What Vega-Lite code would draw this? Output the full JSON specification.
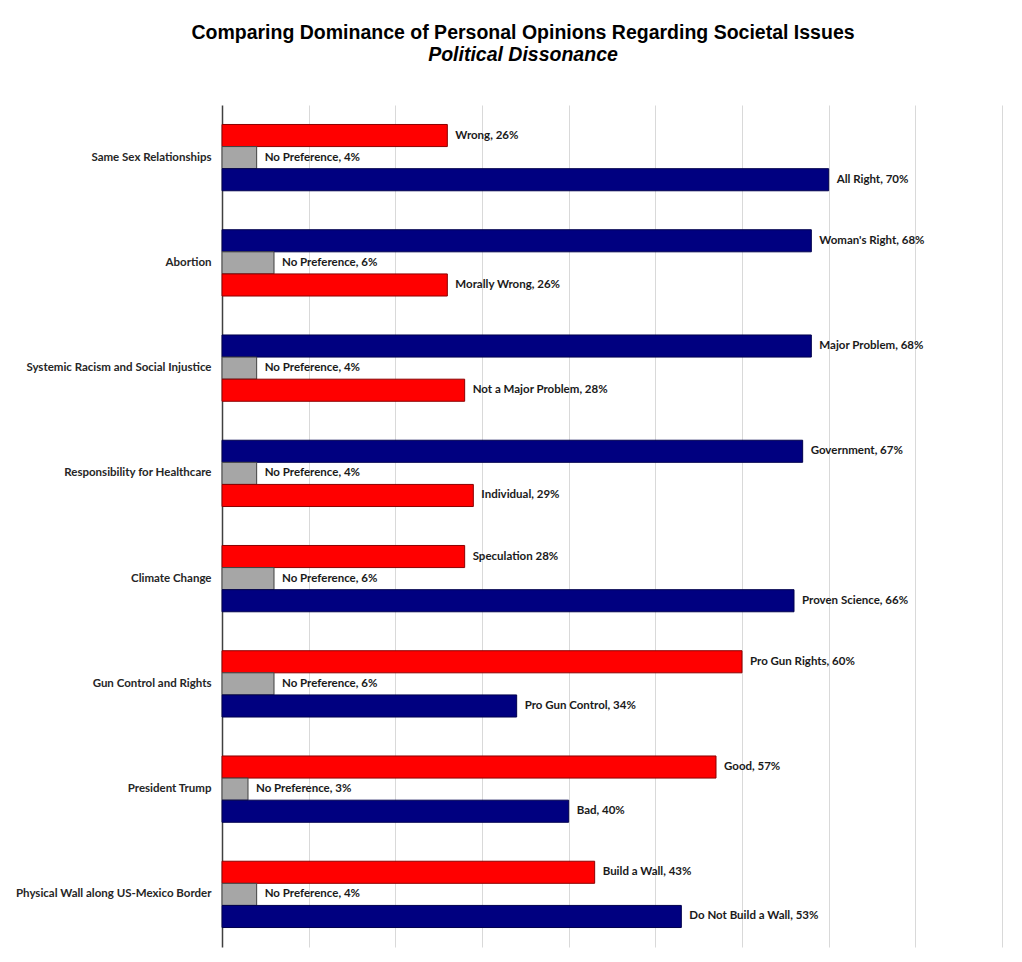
{
  "$schema": "https://vega.github.io/schema/vega-lite/v6.json",
  "width": 780,
  "height": 842,
  "autosize": {"type": "none"},
  "padding": {"left": 222, "top": 105, "right": 20, "bottom": 15},
  "background": "white",
  "title": {
    "text": "Comparing Dominance of Personal Opinions Regarding Societal Issues",
    "subtitle": "Political Dissonance",
    "anchor": "middle",
    "frame": "group",
    "dx": -89,
    "offset": 40,
    "font": "Liberation Sans",
    "fontSize": 19.5,
    "fontWeight": "bold",
    "color": "#000000",
    "subtitleFont": "Liberation Sans",
    "subtitleFontSize": 19.5,
    "subtitleFontWeight": "bold",
    "subtitleFontStyle": "italic",
    "subtitleColor": "#000000",
    "subtitlePadding": 2
  },
  "data": {
    "values": [
      {"issue": "Same Sex Relationships", "rank": 1, "stance": "Conservative", "pct": 26, "label": "Wrong, 26%"},
      {"issue": "Same Sex Relationships", "rank": 2, "stance": "Neutral", "pct": 4, "label": "No Preference, 4%"},
      {"issue": "Same Sex Relationships", "rank": 3, "stance": "Liberal", "pct": 70, "label": "All Right, 70%"},
      {"issue": "Abortion", "rank": 1, "stance": "Liberal", "pct": 68, "label": "Woman's Right, 68%"},
      {"issue": "Abortion", "rank": 2, "stance": "Neutral", "pct": 6, "label": "No Preference, 6%"},
      {"issue": "Abortion", "rank": 3, "stance": "Conservative", "pct": 26, "label": "Morally Wrong, 26%"},
      {"issue": "Systemic Racism and Social Injustice", "rank": 1, "stance": "Liberal", "pct": 68, "label": "Major Problem, 68%"},
      {"issue": "Systemic Racism and Social Injustice", "rank": 2, "stance": "Neutral", "pct": 4, "label": "No Preference, 4%"},
      {"issue": "Systemic Racism and Social Injustice", "rank": 3, "stance": "Conservative", "pct": 28, "label": "Not a Major Problem, 28%"},
      {"issue": "Responsibility for Healthcare", "rank": 1, "stance": "Liberal", "pct": 67, "label": "Government, 67%"},
      {"issue": "Responsibility for Healthcare", "rank": 2, "stance": "Neutral", "pct": 4, "label": "No Preference, 4%"},
      {"issue": "Responsibility for Healthcare", "rank": 3, "stance": "Conservative", "pct": 29, "label": "Individual, 29%"},
      {"issue": "Climate Change", "rank": 1, "stance": "Conservative", "pct": 28, "label": "Speculation 28%"},
      {"issue": "Climate Change", "rank": 2, "stance": "Neutral", "pct": 6, "label": "No Preference, 6%"},
      {"issue": "Climate Change", "rank": 3, "stance": "Liberal", "pct": 66, "label": "Proven Science, 66%"},
      {"issue": "Gun Control and Rights", "rank": 1, "stance": "Conservative", "pct": 60, "label": "Pro Gun Rights, 60%"},
      {"issue": "Gun Control and Rights", "rank": 2, "stance": "Neutral", "pct": 6, "label": "No Preference, 6%"},
      {"issue": "Gun Control and Rights", "rank": 3, "stance": "Liberal", "pct": 34, "label": "Pro Gun Control, 34%"},
      {"issue": "President Trump", "rank": 1, "stance": "Conservative", "pct": 57, "label": "Good, 57%"},
      {"issue": "President Trump", "rank": 2, "stance": "Neutral", "pct": 3, "label": "No Preference, 3%"},
      {"issue": "President Trump", "rank": 3, "stance": "Liberal", "pct": 40, "label": "Bad, 40%"},
      {"issue": "Physical Wall along US-Mexico Border", "rank": 1, "stance": "Conservative", "pct": 43, "label": "Build a Wall, 43%"},
      {"issue": "Physical Wall along US-Mexico Border", "rank": 2, "stance": "Neutral", "pct": 4, "label": "No Preference, 4%"},
      {"issue": "Physical Wall along US-Mexico Border", "rank": 3, "stance": "Liberal", "pct": 53, "label": "Do Not Build a Wall, 53%"}
    ]
  },
  "encoding": {
    "y": {
      "field": "issue",
      "type": "nominal",
      "sort": null,
      "title": null,
      "scale": {"paddingInner": 0.37, "paddingOuter": 0.185},
      "axis": {
        "domain": true,
        "domainColor": "#404040",
        "domainWidth": 1.5,
        "ticks": false,
        "grid": false,
        "labelPadding": 11,
        "labelFont": "Lato",
        "labelFontSize": 11.5,
        "labelFontWeight": "bold",
        "labelColor": "#262626",
        "labelLimit": 300
      }
    },
    "yOffset": {
      "field": "rank",
      "type": "ordinal",
      "scale": {"paddingInner": 0, "paddingOuter": 0}
    },
    "x": {
      "field": "pct",
      "type": "quantitative",
      "scale": {"domain": [0, 90], "nice": false},
      "axis": {
        "values": [10, 20, 30, 40, 50, 60, 70, 80, 90],
        "grid": true,
        "gridColor": "#d9d9d9",
        "gridWidth": 1,
        "labels": false,
        "ticks": false,
        "domain": false,
        "title": null
      }
    }
  },
  "layer": [
    {
      "mark": {"type": "bar", "strokeWidth": 1},
      "encoding": {
        "fill": {
          "field": "stance",
          "type": "nominal",
          "scale": {"domain": ["Conservative", "Neutral", "Liberal"], "range": ["#ff0000", "#a6a6a6", "#000080"]},
          "legend": null
        },
        "stroke": {
          "field": "stance",
          "type": "nominal",
          "scale": {"domain": ["Conservative", "Neutral", "Liberal"], "range": ["#8b0000", "#404040", "#00004d"]},
          "legend": null
        }
      }
    },
    {
      "mark": {"type": "text", "align": "left", "baseline": "middle", "dx": 8, "font": "Lato", "fontSize": 11.5, "fontWeight": "bold", "color": "#1a1a1a"},
      "encoding": {"text": {"field": "label"}}
    }
  ],
  "config": {"view": {"stroke": null}}
}
